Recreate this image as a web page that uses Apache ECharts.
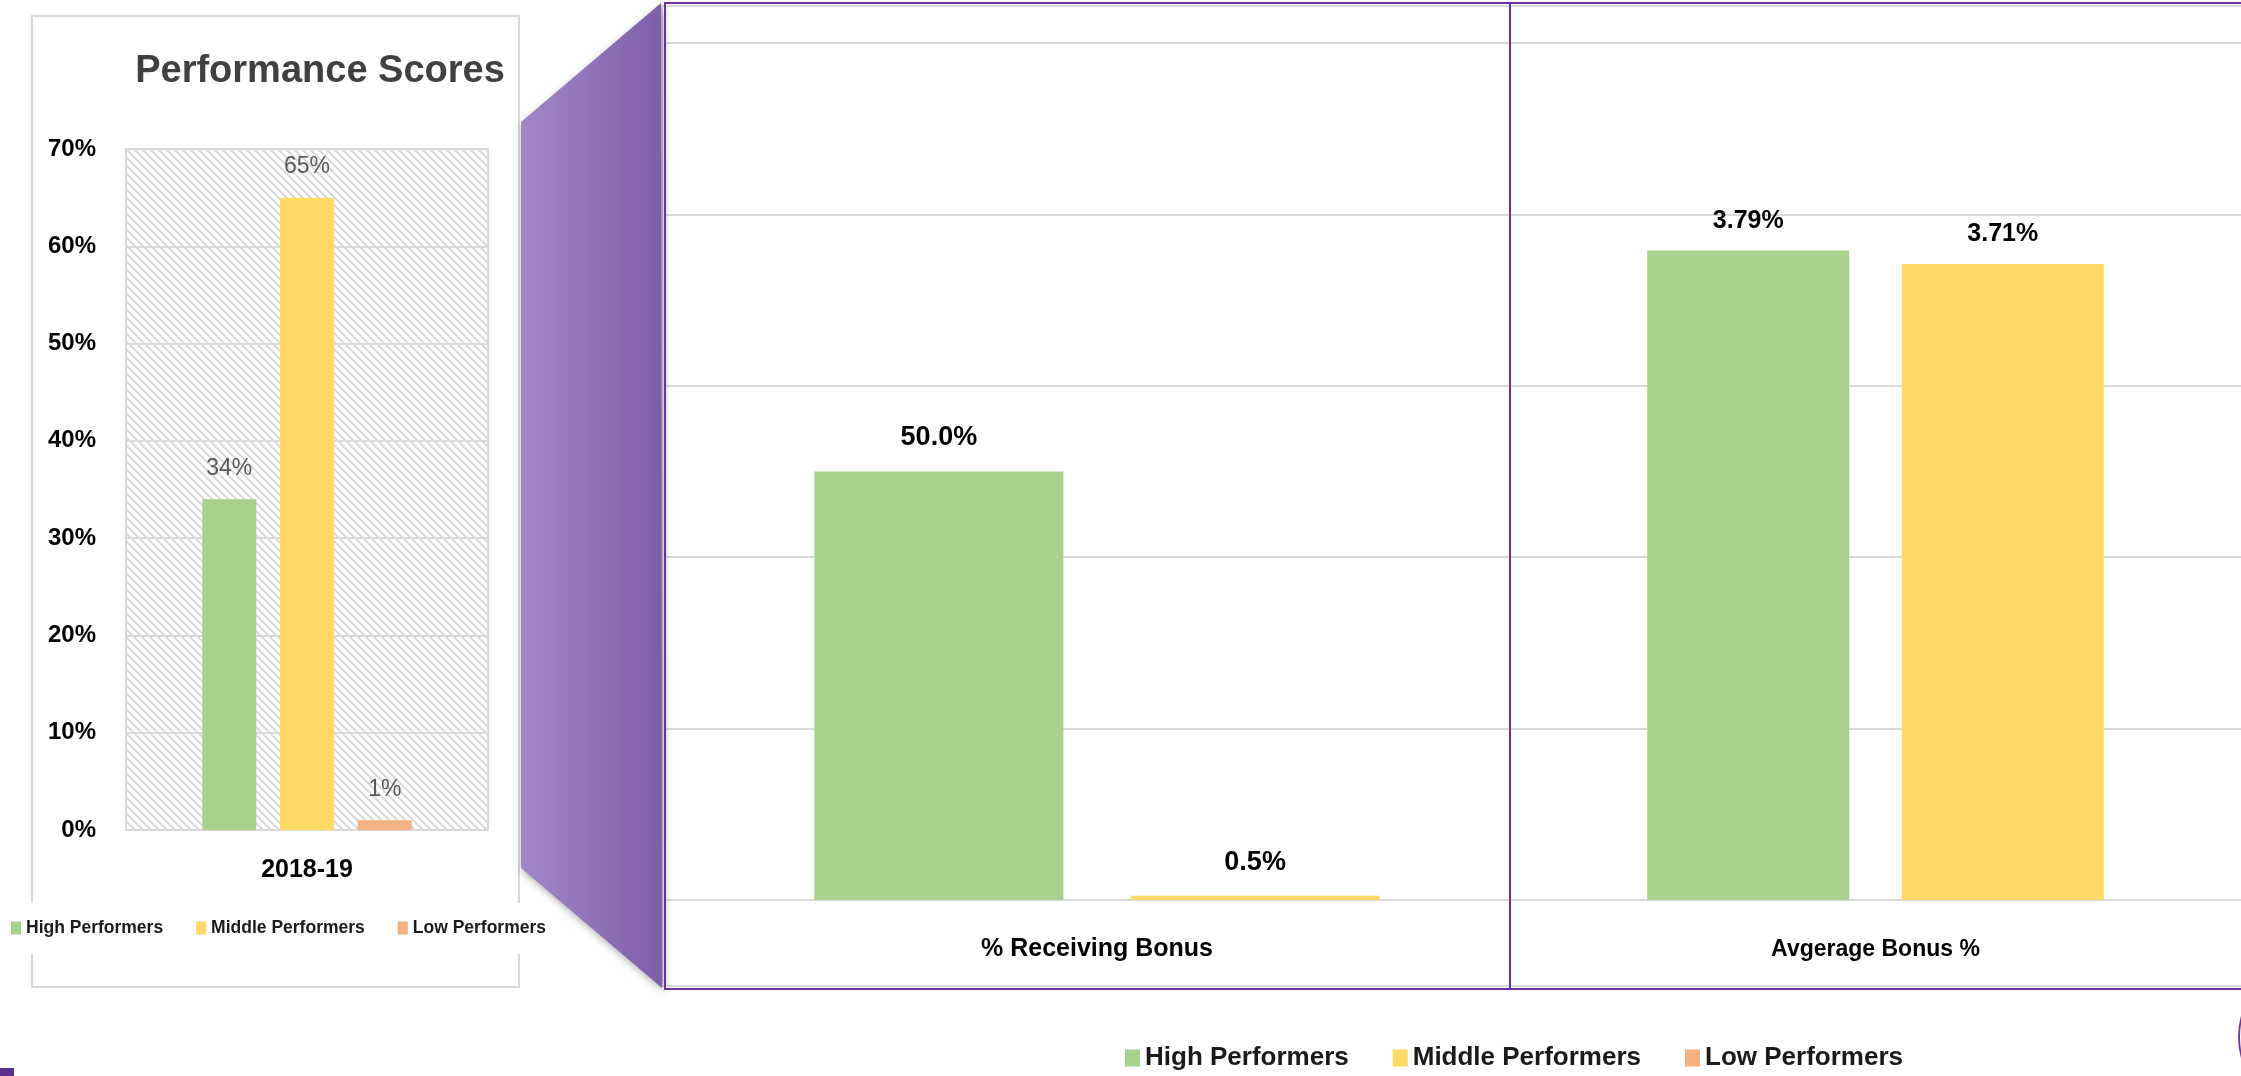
<!DOCTYPE html>
<html>
<head>
<meta charset="utf-8">
<title>Performance Scores and Bonus</title>
<script src="https://cdn.jsdelivr.net/npm/echarts@6/dist/echarts.min.js"></script>
<style>
  html, body { margin: 0; padding: 0; background: #ffffff; }
  #chart { width: 2241px; height: 1076px; }
</style>
</head>
<body>
<div id="chart"></div>
<script>
// Performer groups shared by every panel
const groupNames = ['High Performers', 'Middle Performers', 'Low Performers'];
const groupColors = ['#a9d18e', '#ffd966', '#f4b183'];

// Performance score distribution
const scoreYears = ['2018-19'];
const scoreHigh = [0.34];
const scoreMiddle = [0.65];
const scoreLow = [0.01];
const scoreAxisMax = 0.7;
const scoreAxisStep = 0.1;

// Share of each group receiving a bonus
const receivingCategory = ['% Receiving Bonus'];
const receivingHigh = [0.50];
const receivingMiddle = [0.005];
const receivingAxisMax = 1.0;
const receivingAxisStep = 0.2;

// Average bonus size of each group
const averageCategory = ['Avgerage Bonus %'];
const averageHigh = [0.0379];
const averageMiddle = [0.0371];
const averageAxisMax = 0.05;
const averageAxisStep = 0.01;

const FONT = '"Liberation Sans Narrow", "Liberation Sans", Arial, sans-serif';
const GRID_GRAY = '#d9d9d9';
const PANEL_PURPLE = '#7030a0';

// Diagonal hatch used behind the score bars
function makeHatch() {
  const c = document.createElement('canvas');
  c.width = 8; c.height = 8;
  const g = c.getContext('2d');
  g.fillStyle = '#ffffff';
  g.fillRect(0, 0, 8, 8);
  g.fillStyle = '#dcdcdc';
  for (let row = 0; row < 8; row++) {
    for (let k = 0; k < 3; k++) {
      g.fillRect((row + k) % 8, row, 1, 1);
    }
  }
  return c;
}

const pct0 = v => Math.round(v * 100) + '%';
const pct1 = v => (v * 100).toFixed(1) + '%';
const pct2 = v => (v * 100).toFixed(2) + '%';

const valueAxisBase = {
  type: 'value',
  min: 0,
  axisLine: { show: false },
  axisTick: { show: false },
  splitLine: { show: true, lineStyle: { color: GRID_GRAY, width: 2 } }
};
const categoryAxisBase = {
  type: 'category',
  axisLine: { show: false },
  axisTick: { show: false }
};

function bonusLabel(fmt, size, distance) {
  return {
    show: true, position: 'top', distance: distance,
    color: '#000000', fontSize: size, fontWeight: 'bold', fontFamily: FONT,
    formatter: p => fmt(p.value)
  };
}

const chart = echarts.init(document.getElementById('chart'));

const option = {
  animation: false,
  textStyle: { fontFamily: FONT },
  title: {
    text: 'Performance Scores',
    left: 320, top: 72, padding: 0,
    textAlign: 'center', textVerticalAlign: 'middle',
    textStyle: { fontSize: 38, fontWeight: 'bold', color: '#404040', fontFamily: FONT }
  },
  legend: [
    {
      data: groupNames,
      left: 5, top: 903,
      padding: [16, 6, 17, 6],
      backgroundColor: '#ffffff',
      icon: 'rect', itemWidth: 10, itemHeight: 13, itemGap: 33,
      textStyle: { fontSize: 17.5, fontWeight: 'bold', color: '#1a1a1a', fontFamily: FONT }
    },
    {
      data: groupNames,
      left: 1125, top: 1045,
      padding: 0,
      icon: 'rect', itemWidth: 15, itemHeight: 17, itemGap: 44,
      textStyle: { fontSize: 26, fontWeight: 'bold', color: '#1a1a1a', fontFamily: FONT }
    }
  ],
  grid: [
    {
      left: 126, top: 149, width: 362, height: 681,
      show: true,
      backgroundColor: { image: makeHatch(), repeat: 'repeat' },
      borderColor: GRID_GRAY, borderWidth: 2
    },
    { left: 665, top: 43, width: 864, height: 857 },
    { left: 1510, top: 43, width: 738, height: 857 }
  ],
  xAxis: [
    Object.assign({}, categoryAxisBase, {
      gridIndex: 0, data: scoreYears,
      axisLabel: { margin: 28, fontSize: 25, fontWeight: 'bold', color: '#000000', fontFamily: FONT }
    }),
    Object.assign({}, categoryAxisBase, {
      gridIndex: 1, data: receivingCategory,
      axisLabel: { margin: 37, fontSize: 25, fontWeight: 'bold', color: '#000000', fontFamily: FONT }
    }),
    Object.assign({}, categoryAxisBase, {
      gridIndex: 2, data: averageCategory,
      axisLabel: { margin: 38, fontSize: 23, fontWeight: 'bold', color: '#000000', fontFamily: FONT }
    })
  ],
  yAxis: [
    Object.assign({}, valueAxisBase, {
      gridIndex: 0, max: scoreAxisMax, interval: scoreAxisStep,
      axisLabel: { formatter: pct0, margin: 30, fontSize: 24, fontWeight: 'bold', color: '#000000', fontFamily: FONT }
    }),
    Object.assign({}, valueAxisBase, {
      gridIndex: 1, max: receivingAxisMax, interval: receivingAxisStep,
      axisLabel: { show: false }
    }),
    Object.assign({}, valueAxisBase, {
      gridIndex: 2, max: averageAxisMax, interval: averageAxisStep,
      axisLabel: { show: false }
    })
  ],
  series: [
    // score distribution
    ...[scoreHigh, scoreMiddle, scoreLow].map((values, i) => ({
      name: groupNames[i], type: 'bar',
      xAxisIndex: 0, yAxisIndex: 0,
      data: values,
      barWidth: 54, barGap: '44%',
      itemStyle: { color: groupColors[i] },
      label: {
        show: true, position: 'top', distance: 19,
        color: '#595959', fontSize: 23, fontFamily: FONT,
        formatter: p => pct0(p.value)
      }
    })),
    // share receiving a bonus
    ...[receivingHigh, receivingMiddle].map((values, i) => ({
      name: groupNames[i], type: 'bar',
      xAxisIndex: 1, yAxisIndex: 1,
      data: values,
      barWidth: 249, barGap: '27%',
      itemStyle: { color: groupColors[i] },
      label: bonusLabel(pct1, 27, 20)
    })),
    // average bonus size
    ...[averageHigh, averageMiddle].map((values, i) => ({
      name: groupNames[i], type: 'bar',
      xAxisIndex: 2, yAxisIndex: 2,
      data: values,
      barWidth: 202, barGap: '26%',
      itemStyle: { color: groupColors[i] },
      label: bonusLabel(pct2, 25, 17)
    }))
  ],
  graphic: [
    // frame of the score chart
    {
      type: 'rect', z: 0, silent: true,
      shape: { x: 32, y: 16, width: 487, height: 971 },
      style: { fill: null, stroke: GRID_GRAY, lineWidth: 2 }
    },
    // connector between the score chart and the bonus panel
    {
      type: 'polygon', z: 1, silent: true,
      shape: { points: [[521, 122], [661, 3], [662, 988], [521, 868]] },
      style: {
        fill: new echarts.graphic.LinearGradient(0, 0, 1, 0, [
          { offset: 0, color: '#a388c8' },
          { offset: 1, color: '#7e5ea9' }
        ]),
        shadowBlur: 8, shadowColor: 'rgba(0,0,0,0.35)', shadowOffsetX: 2, shadowOffsetY: 3
      }
    },
    // bonus panel frame and divider
    {
      type: 'rect', z: 0, silent: true,
      shape: { x: 662, y: 6, width: 1620, height: 980 },
      style: { fill: null, stroke: GRID_GRAY, lineWidth: 2 }
    },
    {
      type: 'rect', z: 10, silent: true,
      shape: { x: 665, y: 3, width: 1620, height: 986 },
      style: { fill: null, stroke: PANEL_PURPLE, lineWidth: 2 }
    },
    {
      type: 'line', z: 10, silent: true,
      shape: { x1: 1510, y1: 3, x2: 1510, y2: 989 },
      style: { stroke: PANEL_PURPLE, lineWidth: 2 }
    },
    // page decorations
    {
      type: 'rect', z: 10, silent: true,
      shape: { x: 0, y: 1068, width: 14, height: 8 },
      style: { fill: '#5c3190' }
    },
    {
      type: 'circle', z: 10, silent: true,
      shape: { cx: 2316, cy: 1037, r: 77 },
      style: { fill: null, stroke: '#6c3c9c', lineWidth: 2 }
    }
  ]
};

chart.setOption(option);
</script>
</body>
</html>
